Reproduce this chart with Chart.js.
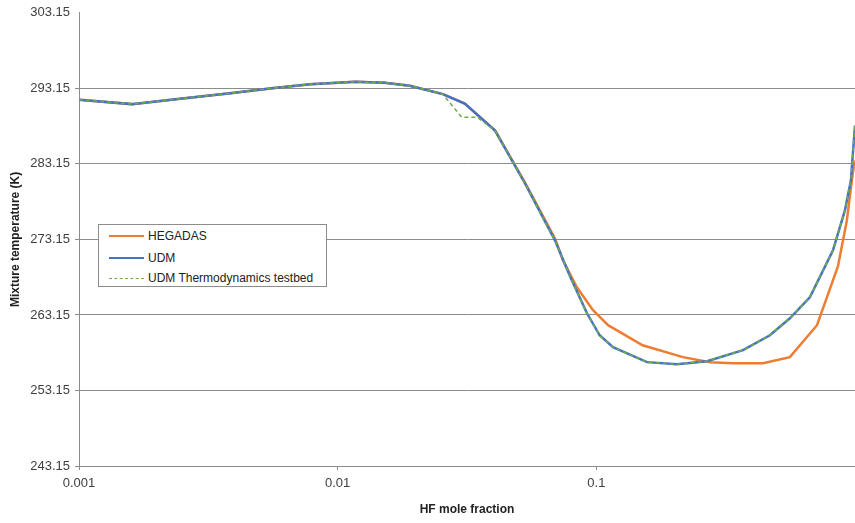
<!DOCTYPE html>
<html>
<head>
<meta charset="utf-8">
<script src="https://cdn.jsdelivr.net/npm/chart.js@4/dist/chart.umd.min.js"></script>
<style>
  html, body { margin: 0; padding: 0; background: #fff; }
  #wrap { position: relative; width: 855px; height: 523px; }
  #legend { position: absolute; left: 98px; top: 224px; width: 229px; height: 63px;
    border: 1px solid #8c8c8c; background: #fff; font-family: "Liberation Sans", Arial, sans-serif;
    font-size: 12px; color: #222; box-sizing: border-box; }
  .row { position: absolute; left: 10px; height: 16px; display: flex; align-items: center; }
  .swatch { width: 35px; height: 0; margin-right: 4px; }
</style>
</head>
<body>
<div id="wrap">
  <canvas id="c"></canvas>
  <div id="legend"></div>
</div>
<script>
// ---- data ----
const seriesNames = ["HEGADAS", "UDM", "UDM Thermodynamics testbed"];
const seriesColors = ["#ED7D31", "#4472C4", "#70AD47"];

const hegadasX = [0.001, 0.0016, 0.00246, 0.00384, 0.00557, 0.00782, 0.0117, 0.0152, 0.019, 0.0255, 0.031, 0.0406, 0.053, 0.0692, 0.0743, 0.0841, 0.0971, 0.111, 0.151, 0.216, 0.275, 0.337, 0.441, 0.560, 0.713, 0.859, 0.93, 0.98, 1.0];
const hegadasT = [291.65, 291.06, 291.78, 292.51, 293.17, 293.70, 294.03, 293.90, 293.50, 292.38, 291.12, 287.56, 280.68, 273.28, 270.38, 266.81, 263.77, 261.79, 259.14, 257.56, 256.90, 256.76, 256.76, 257.56, 261.79, 269.58, 275.66, 281.87, 283.59];

const udmX = [0.001, 0.0016, 0.00246, 0.00384, 0.00557, 0.00782, 0.0117, 0.0152, 0.019, 0.0255, 0.031, 0.0406, 0.053, 0.0692, 0.0791, 0.092, 0.103, 0.116, 0.157, 0.205, 0.268, 0.369, 0.469, 0.560, 0.669, 0.822, 0.914, 0.964, 1.0];
const udmT = [291.65, 291.06, 291.78, 292.51, 293.17, 293.70, 294.03, 293.90, 293.50, 292.38, 291.12, 287.56, 280.55, 273.02, 268.26, 263.37, 260.46, 258.88, 256.90, 256.63, 257.03, 258.48, 260.46, 262.71, 265.49, 271.70, 276.98, 280.95, 288.22];

const testbedX = [0.001, 0.0016, 0.00246, 0.00384, 0.00557, 0.00782, 0.0117, 0.0152, 0.019, 0.0255, 0.0302, 0.0346, 0.0406, 0.053, 0.0692, 0.0791, 0.092, 0.103, 0.116, 0.157, 0.205, 0.268, 0.369, 0.469, 0.560, 0.669, 0.822, 0.914, 0.964, 1.0];
const testbedT = [291.65, 291.06, 291.78, 292.51, 293.17, 293.70, 294.03, 293.90, 293.50, 292.38, 289.31, 289.31, 287.56, 280.55, 273.02, 268.26, 263.37, 260.46, 258.88, 256.90, 256.63, 257.03, 258.48, 260.46, 262.71, 265.49, 271.70, 276.98, 280.95, 288.22];

const xTickValues = [0.001, 0.01, 0.1, 1];
const xTickLabels = ["0.001", "0.01", "0.1", ""];
const yTickValues = [243.15, 253.15, 263.15, 273.15, 283.15, 293.15, 303.15];

const xTitle = "HF mole fraction";
const yTitle = "Mixture temperature (K)";

// ---- build ----
const toPts = (xs, ys) => xs.map((x, i) => ({ x: x, y: ys[i] }));
const FONT = "'Liberation Sans', Arial, sans-serif";

const datasets = [
  { label: seriesNames[0], data: toPts(hegadasX, hegadasT), borderColor: seriesColors[0], borderWidth: 2.5, order: 3 },
  { label: seriesNames[1], data: toPts(udmX, udmT), borderColor: seriesColors[1], borderWidth: 2.5, order: 2 },
  { label: seriesNames[2], data: toPts(testbedX, testbedT), borderColor: seriesColors[2], borderWidth: 1.5, borderDash: [4, 3], order: 1 }
].map(d => Object.assign(d, { showLine: true, pointRadius: 0, fill: false, tension: 0, backgroundColor: d.borderColor }));

const chart = new Chart(document.getElementById('c'), {
  type: 'scatter',
  data: { datasets },
  options: {
    responsive: true,
    maintainAspectRatio: false,
    animation: false,
    layout: { padding: { top: 12, right: 0, left: 0, bottom: 0 } },
    plugins: { legend: { display: false }, tooltip: { enabled: false } },
    scales: {
      x: {
        type: 'logarithmic',
        min: 0.001, max: 1,
        afterBuildTicks: s => { s.ticks = xTickValues.map(v => ({ value: v })); },
        afterFit: s => { s.height = 57; s.paddingLeft = 0; s.paddingRight = 0; },
        ticks: {
          autoSkip: false, maxRotation: 0, padding: 6,
          font: { family: FONT, size: 13 }, color: '#404040',
          callback: (v) => { const i = xTickValues.indexOf(v); return i >= 0 ? xTickLabels[i] : ''; }
        },
        grid: { drawOnChartArea: false, drawTicks: true, tickLength: 4, color: '#8c8c8c' },
        border: { color: '#8c8c8c', width: 1 },
        title: { display: true, text: xTitle, font: { family: FONT, size: 12, weight: 'bold' }, color: '#222', padding: { top: 0, bottom: 6 } }
      },
      y: {
        min: 243.15, max: 303.15,
        afterBuildTicks: s => { s.ticks = yTickValues.map(v => ({ value: v })); },
        afterFit: s => { s.width = 79; },
        ticks: {
          padding: 5, font: { family: FONT, size: 13 }, color: '#404040',
          callback: v => Number(v).toFixed(2)
        },
        grid: {
          tickLength: 4,
          color: ctx => (ctx.tick && Math.abs(ctx.tick.value - 303.15) < 1e-6) ? 'rgba(0,0,0,0)' : '#8c8c8c',
          lineWidth: 1
        },
        border: { color: '#8c8c8c', width: 1 },
        title: { display: true, text: yTitle, font: { family: FONT, size: 12, weight: 'bold' }, color: '#222', padding: { top: 8, bottom: 0 } }
      }
    }
  }
});

// ---- legend (HTML, generated from the datasets) ----
const legend = document.getElementById('legend');
const rowTops = [3, 25, 45];
chart.data.datasets.forEach((d, i) => {
  const row = document.createElement('div');
  row.className = 'row';
  row.style.top = rowTops[i] + 'px';
  const sw = document.createElement('div');
  sw.className = 'swatch';
  sw.style.borderTop = d.borderDash ? `1.5px dashed ${d.borderColor}` : `2.5px solid ${d.borderColor}`;
  const t = document.createElement('span');
  t.textContent = d.label;
  row.appendChild(sw); row.appendChild(t);
  legend.appendChild(row);
});
</script>
</body>
</html>
